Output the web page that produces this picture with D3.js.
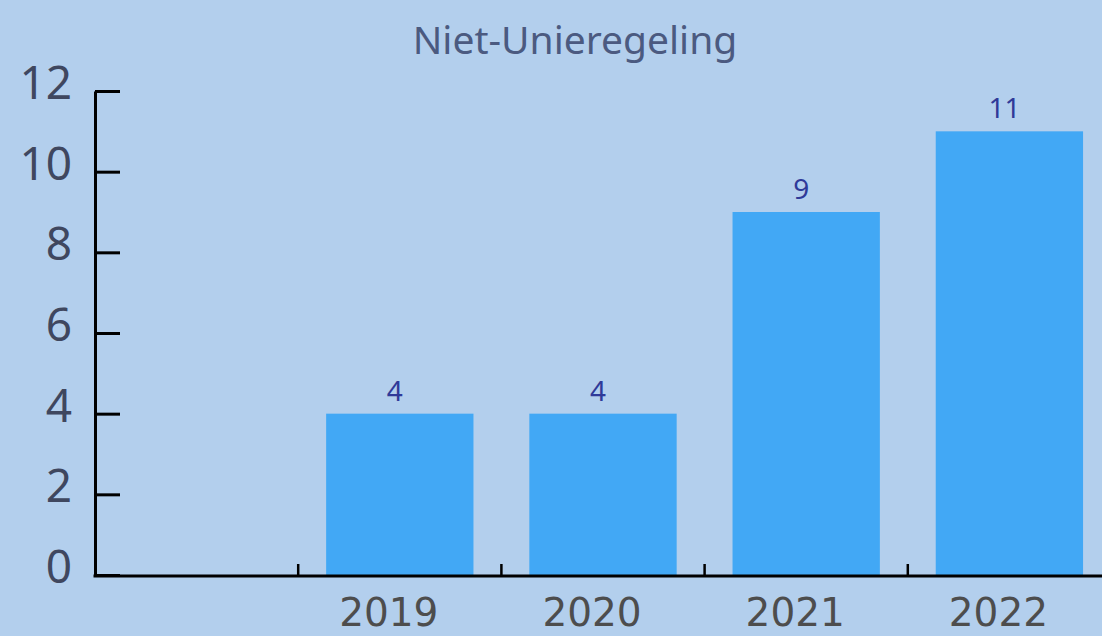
<!DOCTYPE html>
<html>
<head>
<meta charset="utf-8">
<script src="https://cdn.jsdelivr.net/npm/d3@7"></script>
<style>
  html, body { margin: 0; padding: 0; background: #b3cfed; }
  svg { display: block; }
</style>
</head>
<body>
<div id="chart-area"></div>
<script>
// data
var title = 'Niet-Unieregeling';
var years = ['', '2019', '2020', '2021', '2022'];   // first band stays empty
var counts = [null, 4, 4, 9, 11];
var yTicks = [0, 2, 4, 6, 8, 10, 12];

var def = {
    width: 1102,
    height: 636,
    left: 95,
    top: 91,
    bottom: 575,
    bandEnd: 1111,
    bg: '#b3cfed',
    bar: '#42a8f5'
};

var svg = d3.select('#chart-area').append('svg')
    .attr('width', def.width)
    .attr('height', def.height);

svg.append('rect')
    .attr('width', def.width)
    .attr('height', def.height)
    .attr('fill', def.bg);

var x = d3.scaleBand()
    .domain(years)
    .range([def.left, def.bandEnd])
    .paddingInner(0.275)
    .paddingOuter(0.1375);

var y = d3.scaleLinear()
    .domain([0, 12])
    .range([def.bottom, def.top]);

// title
svg.append('text')
    .attr('x', 575)
    .attr('y', 54)
    .attr('text-anchor', 'middle')
    .attr('font-family', 'Noto Sans')
    .attr('font-size', '39px')
    .attr('fill', '#4b5a80')
    .text(title);

// bars
var data = years.map((d, i) => ({ year: d, value: counts[i] })).filter(d => d.value != null);

svg.selectAll('rect.bar')
    .data(data)
    .enter()
    .append('rect')
    .attr('class', 'bar')
    .attr('x', d => x(d.year))
    .attr('width', x.bandwidth())
    .attr('y', d => y(d.value))
    .attr('height', d => y(0) - y(d.value))
    .attr('fill', def.bar);

// value labels
svg.selectAll('text.val')
    .data(data)
    .enter()
    .append('text')
    .attr('class', 'val')
    .attr('x', d => x(d.year) + x.bandwidth() / 2 - 5)
    .attr('y', d => y(d.value) - 13)
    .attr('text-anchor', 'middle')
    .attr('font-family', 'Noto Sans')
    .attr('font-size', '28px')
    .attr('fill', '#2f3a99')
    .text(d => d.value);

// y axis, ticks point into the plot
var yAx = d3.axisLeft(y)
    .tickValues(yTicks)
    .tickSizeInner(-25)
    .tickSizeOuter(0)
    .tickPadding(23);

var yG = svg.append('g')
    .attr('transform', 'translate(' + def.left + ',0)')
    .call(yAx);
yG.select('.domain').attr('stroke', '#000').attr('stroke-width', 3);
yG.selectAll('.tick line').attr('stroke', '#000').attr('stroke-width', 3);
yG.selectAll('.tick text')
    .attr('font-family', 'Noto Sans')
    .attr('font-size', '46px')
    .attr('fill', '#3f475f')
    .attr('dy', '0.16em');

// x axis labels
var xAx = d3.axisBottom(x).tickSize(0).tickPadding(21);
var xG = svg.append('g')
    .attr('transform', 'translate(0,' + def.bottom + ')')
    .call(xAx);
xG.select('.domain').remove();
xG.selectAll('.tick text')
    .attr('font-family', 'DejaVu Sans')
    .attr('font-size', '39px')
    .attr('fill', '#4d4d4d')
    .attr('dx', -11)
    .attr('dy', '0.78em');

// x axis line and band boundary ticks
svg.append('line')
    .attr('x1', def.left - 1.5)
    .attr('x2', def.width)
    .attr('y1', def.bottom + 1)
    .attr('y2', def.bottom + 1)
    .attr('stroke', '#000')
    .attr('stroke-width', 3);

var step = x.step();
var bounds = years.slice(1).map(d => x(d) - (step - x.bandwidth()) / 2);
svg.selectAll('line.xt')
    .data(bounds)
    .enter()
    .append('line')
    .attr('class', 'xt')
    .attr('x1', d => d)
    .attr('x2', d => d)
    .attr('y1', def.bottom + 1)
    .attr('y2', def.bottom - 11)
    .attr('stroke', '#000')
    .attr('stroke-width', 2.5);
</script>
</body>
</html>
